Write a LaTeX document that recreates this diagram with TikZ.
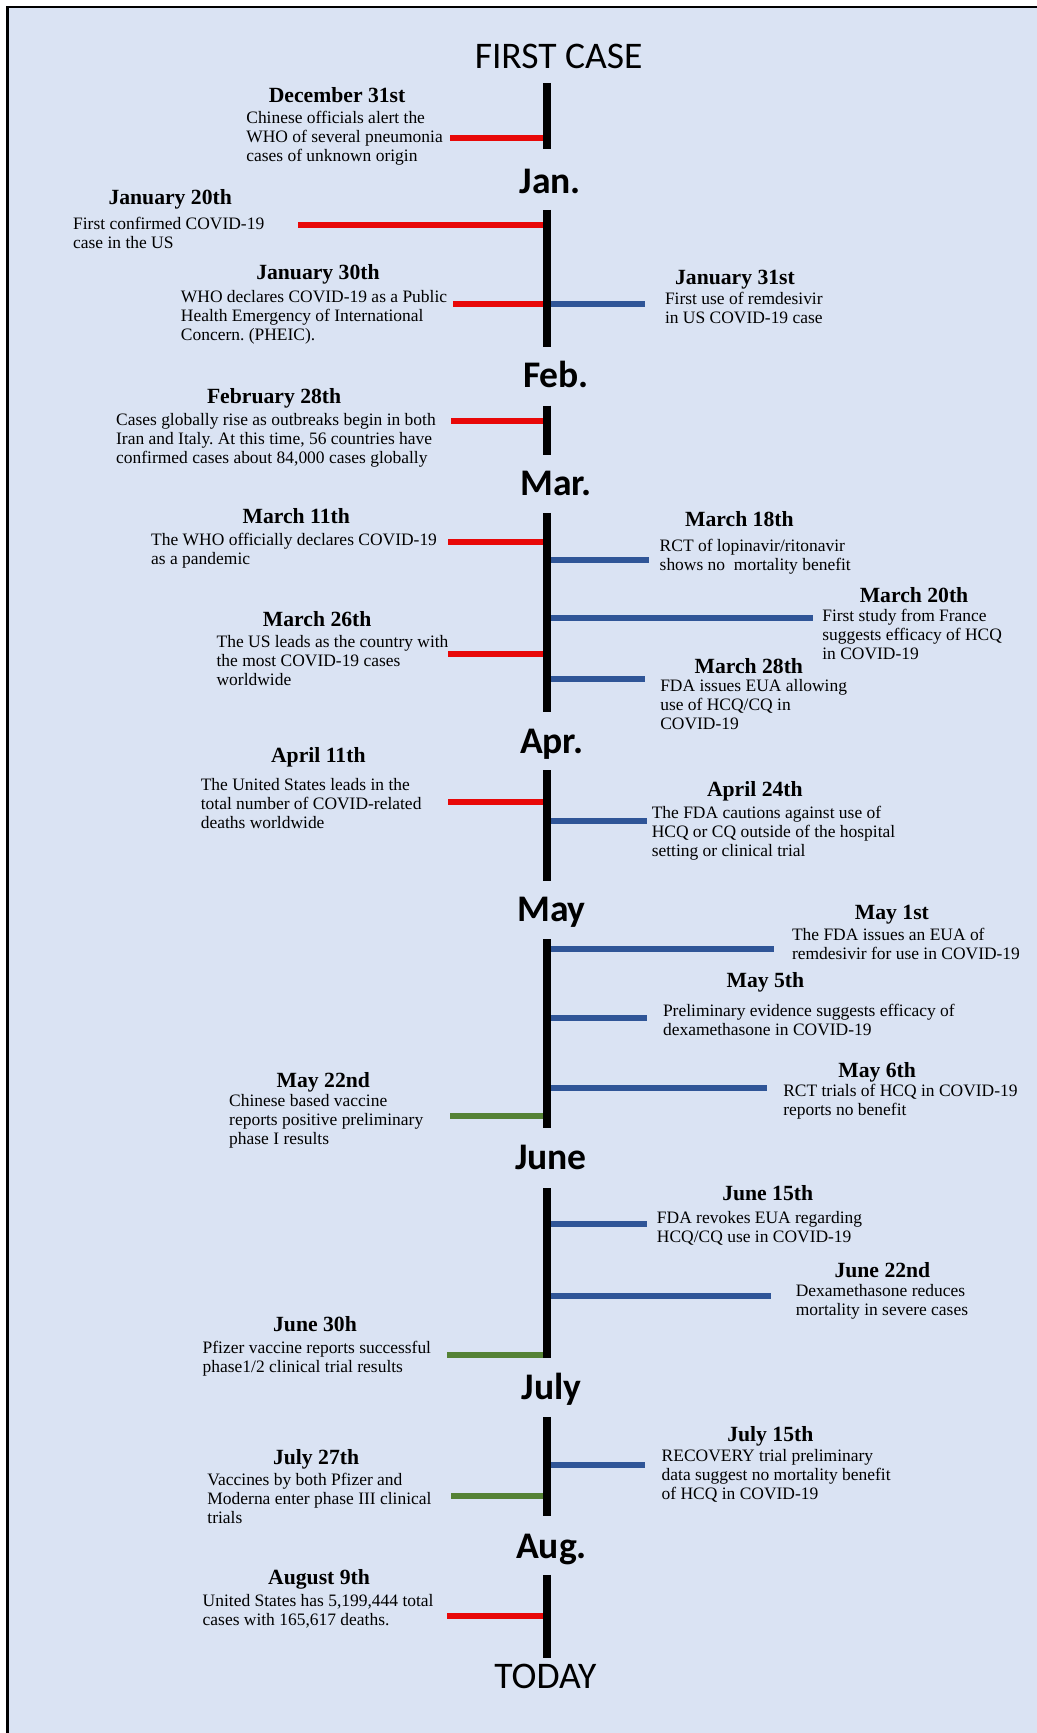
\documentclass[tikz,border=0pt]{standalone}
\usepackage{fontspec}
\setmainfont{Liberation Serif}
\newfontfamily\monthfont{Carlito}
\frenchspacing
\definecolor{bgblue}{RGB}{218,227,243}
\definecolor{evred}{RGB}{232,8,8}
\definecolor{evblue}{RGB}{47,85,151}
\definecolor{evgreen}{RGB}{84,130,53}
\tikzset{
  spine/.style={line width=3.6pt, black},
  redbar/.style={line width=2.7pt, draw=evred},
  bluebar/.style={line width=2.7pt, draw=evblue},
  greenbar/.style={line width=2.7pt, draw=evgreen},
  head/.style={font=\fontsize{9.8}{11}\selectfont\bfseries, inner sep=0pt, anchor=base},
  body/.style={font=\fontsize{7.9}{8.6}\selectfont, align=left, inner sep=0pt, anchor=west},
  month/.style={font=\monthfont\bfseries\fontsize{17}{19}\selectfont, inner sep=0pt, anchor=base},
  endlabel/.style={font=\monthfont\fontsize{17}{19}\selectfont, inner sep=0pt, anchor=base}
}
\begin{document}
\begin{tikzpicture}[x=0.5pt,y=-0.5pt]
\useasboundingbox (0,0) rectangle (938,1568);
\fill[white] (0,0) rectangle (938,1568);
\fill[bgblue] (7,6) rectangle (938,1568);
\draw[line width=0.9pt] (7,6) -- (938,6);
\draw[line width=1.35pt] (7,5.5) -- (7,1568);

% month labels
\node[endlabel] (first) at (505.5,62) {FIRST CASE};
\node[month] (jan) at (498,175) {Jan.};
\node[month] (feb) at (503,351) {Feb.};
\node[month] (mar) at (503,448) {Mar.};
\node[month] (apr) at (499,682) {Apr.};
\node[month] (may) at (499,834) {May};
\node[month] (jun) at (498.5,1058) {June};
\node[month] (jul) at (499,1266) {July};
\node[month] (aug) at (499,1410) {Aug.};
\node[endlabel] (today) at (493.5,1528) {TODAY};

% spine segments
\coordinate (s1t) at (495,75);   \coordinate (s1b) at (495,135);
\coordinate (s2t) at (495,190);  \coordinate (s2b) at (495,314);
\coordinate (s3t) at (495,367);  \coordinate (s3b) at (495,412);
\coordinate (s4t) at (495,464);  \coordinate (s4b) at (495,644);
\coordinate (s5t) at (495,697);  \coordinate (s5b) at (495,797);
\coordinate (s6t) at (495,850);  \coordinate (s6b) at (495,1021);
\coordinate (s7t) at (495,1075); \coordinate (s7b) at (495,1229);
\coordinate (s8t) at (495,1282); \coordinate (s8b) at (495,1372);
\coordinate (s9t) at (495,1425); \coordinate (s9b) at (495,1500);

% bar anchor points on the spine and free ends
\coordinate (d31s) at (495,125);    \coordinate (d31e) at (407,125);
\coordinate (j20s) at (495,203.5);  \coordinate (j20e) at (270,203.5);
\coordinate (j30s) at (495,275);    \coordinate (j30e) at (410,275);
\coordinate (j31s) at (495,275);    \coordinate (j31e) at (584,275);
\coordinate (f28s) at (495,381);    \coordinate (f28e) at (408,381);
\coordinate (m11s) at (495,490);    \coordinate (m11e) at (405.5,490);
\coordinate (m18s) at (495,507);    \coordinate (m18e) at (587,507);
\coordinate (m20s) at (495,559);    \coordinate (m20e) at (736,559);
\coordinate (m26s) at (495,592);    \coordinate (m26e) at (405,592);
\coordinate (m28s) at (495,614);    \coordinate (m28e) at (583.5,614);
\coordinate (a11s) at (495,725.5);  \coordinate (a11e) at (405.5,725.5);
\coordinate (a24s) at (495,743);    \coordinate (a24e) at (585,743);
\coordinate (y01s) at (495,858.5);  \coordinate (y01e) at (700,858.5);
\coordinate (y05s) at (495,921.5);  \coordinate (y05e) at (585,921.5);
\coordinate (y06s) at (495,984.5);  \coordinate (y06e) at (694,984.5);
\coordinate (y22s) at (495,1009.5); \coordinate (y22e) at (407,1009.5);
\coordinate (u15s) at (495,1107.5); \coordinate (u15e) at (585,1107.5);
\coordinate (u22s) at (495,1173);   \coordinate (u22e) at (697.5,1173);
\coordinate (u30s) at (495,1226);   \coordinate (u30e) at (404.5,1226);
\coordinate (l15s) at (495,1325.5); \coordinate (l15e) at (583.5,1325.5);
\coordinate (l27s) at (495,1353.5); \coordinate (l27e) at (408,1353.5);
\coordinate (g09s) at (495,1462.5); \coordinate (g09e) at (404.5,1462.5);

% bars (drawn before the spine)
\draw[redbar] (d31s) -- (d31e);
\draw[redbar] (j20s) -- (j20e);
\draw[redbar] (j30s) -- (j30e);
\draw[bluebar] (j31s) -- (j31e);
\draw[redbar] (f28s) -- (f28e);
\draw[redbar] (m11s) -- (m11e);
\draw[bluebar] (m18s) -- (m18e);
\draw[bluebar] (m20s) -- (m20e);
\draw[redbar] (m26s) -- (m26e);
\draw[bluebar] (m28s) -- (m28e);
\draw[redbar] (a11s) -- (a11e);
\draw[bluebar] (a24s) -- (a24e);
\draw[bluebar] (y01s) -- (y01e);
\draw[bluebar] (y05s) -- (y05e);
\draw[bluebar] (y06s) -- (y06e);
\draw[greenbar] (y22s) -- (y22e);
\draw[bluebar] (u15s) -- (u15e);
\draw[bluebar] (u22s) -- (u22e);
\draw[greenbar] (u30s) -- (u30e);
\draw[bluebar] (l15s) -- (l15e);
\draw[greenbar] (l27s) -- (l27e);
\draw[redbar] (g09s) -- (g09e);

\draw[spine] (s1t) -- (s1b);
\draw[spine] (s2t) -- (s2b);
\draw[spine] (s3t) -- (s3b);
\draw[spine] (s4t) -- (s4b);
\draw[spine] (s5t) -- (s5b);
\draw[spine] (s6t) -- (s6b);
\draw[spine] (s7t) -- (s7b);
\draw[spine] (s8t) -- (s8b);
\draw[spine] (s9t) -- (s9b);

% event texts
\node[head] (hd31) at (305,93) {December 31st};
\node[body] (bd31) at (222.5,125.5) {Chinese officials alert the\\WHO of several pneumonia\\cases of unknown origin};

\node[head] (hj20) at (154,185) {January 20th};
\node[body] (bj20) at (65.8,210.5) {First confirmed COVID-19\\case in the US};

\node[head] (hj30) at (287.7,253) {January 30th};
\node[body] (bj30) at (163.3,287) {WHO declares COVID-19 as a Public\\Health Emergency of International\\Concern. (PHEIC).};

\node[head] (hj31) at (665,257) {January 31st};
\node[body] (bj31) at (601.3,278.5) {First use of remdesivir\\in US COVID-19 case};

\node[head] (hf28) at (248,365.5) {February 28th};
\node[body] (bf28) at (104.7,398) {Cases globally rise as outbreaks begin in both\\Iran and Italy. At this time, 56 countries have\\confirmed cases about 84,000 cases globally};

\node[head] (hm11) at (268,474) {March 11th};
\node[body] (bm11) at (136.4,498) {The WHO officially declares COVID-19\\as a pandemic};

\node[head] (hm18) at (669,476.5) {March 18th};
\node[body] (bm18) at (596.5,504) {RCT of lopinavir/ritonavir\\shows no\ \ mortality benefit};

\node[head] (hm20) at (827,545) {March 20th};
\node[body] (bm20) at (743.6,574.5) {First study from France\\suggests efficacy of HCQ\\in COVID-19};

\node[head] (hm26) at (287,566.5) {March 26th};
\node[body] (bm26) at (195.6,597.5) {The US leads as the country with\\the most COVID-19 cases\\worldwide};

\node[head] (hm28) at (677.5,609.5) {March 28th};
\node[body] (bm28) at (597,637.5) {FDA issues EUA allowing\\use of HCQ/CQ in\\COVID-19};

\node[head] (ha11) at (288,690) {April 11th};
\node[body] (ba11) at (181.3,727) {The United States leads in the\\total number of COVID-related\\deaths worldwide};

\node[head] (ha24) at (683,720.5) {April 24th};
\node[body] (ba24) at (589.3,754) {The FDA cautions against use of\\HCQ or CQ outside of the hospital\\setting or clinical trial};

\node[head] (hy01) at (807,832) {May 1st};
\node[body] (by01) at (716.2,854) {The FDA issues an EUA of\\remdesivir for use in COVID-19};

\node[head] (hy05) at (692.5,893.5) {May 5th};
\node[body] (by05) at (599.5,922.5) {Preliminary evidence suggests efficacy of\\dexamethasone in COVID-19};

\node[head] (hy06) at (793.6,974.5) {May 6th};
\node[body] (by06) at (708.3,997) {RCT trials of HCQ in COVID-19\\reports no benefit};

\node[head] (hy22) at (292.5,984) {May 22nd};
\node[body] (by22) at (207,1014.5) {Chinese based vaccine\\reports positive preliminary\\phase I results};

\node[head] (hu15) at (694.6,1086.5) {June 15th};
\node[body] (bu15) at (594,1111) {FDA revokes EUA regarding\\HCQ/CQ use in COVID-19};

\node[head] (hu22) at (798.4,1156) {June 22nd};
\node[body] (bu22) at (719.7,1177.5) {Dexamethasone reduces\\mortality in severe cases};

\node[head] (hu30) at (285,1204.5) {June 30h};
\node[body] (bu30) at (183,1229) {Pfizer vaccine reports successful\\phase1/2 clinical trial results};

\node[head] (hl15) at (697,1304.5) {July 15th};
\node[body] (bl15) at (598.3,1335) {RECOVERY trial preliminary\\data suggest no mortality benefit\\of HCQ in COVID-19};

\node[head] (hl27) at (286,1325) {July 27th};
\node[body] (bl27) at (187.3,1356) {Vaccines by both Pfizer and\\Moderna enter phase III clinical\\trials};

\node[head] (hg09) at (288.7,1433.5) {August 9th};
\node[body] (bg09) at (183,1457.5) {United States has 5,199,444 total\\cases with 165,617 deaths.};
\end{tikzpicture}
\end{document}
